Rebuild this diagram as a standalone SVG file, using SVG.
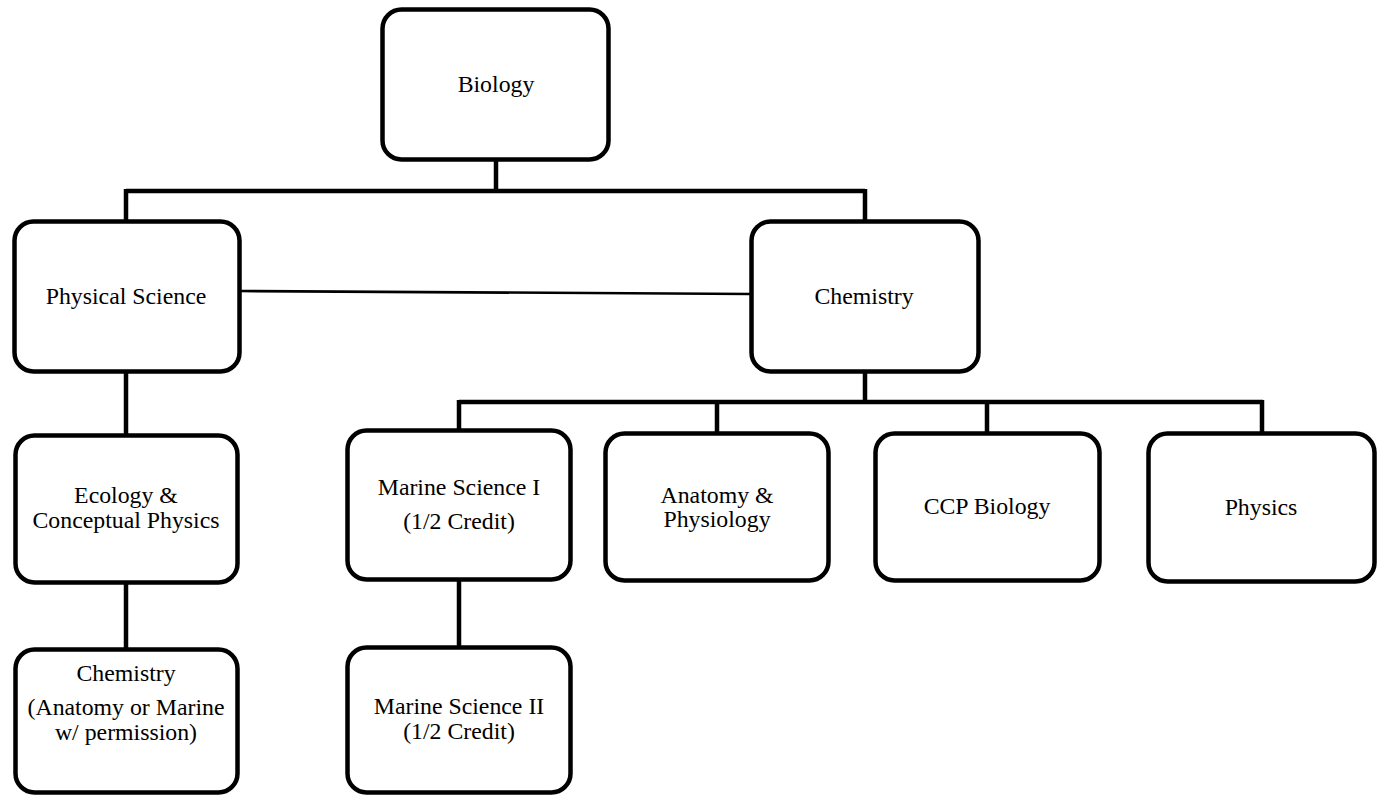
<svg xmlns="http://www.w3.org/2000/svg" width="1385" height="797" viewBox="0 0 1385 797">
<style>
.box{fill:#fff;stroke:#000;stroke-width:4.5}
.lbl{font-family:"Liberation Serif","Times New Roman",serif;font-size:23.8px;fill:#000;text-anchor:middle}
.con{fill:none;stroke:#000;stroke-width:4.5}
.thin{fill:none;stroke:#000;stroke-width:2.6}
</style>
<rect width="1385" height="797" fill="#fff"/>
<g id="connectors">
<path class="con" d="M496,160 V191 M126,191 H865 M126,189 V222 M865,189 V222"/>
<path class="thin" d="M240,291 L751,294"/>
<path class="con" d="M126,372 V436"/>
<path class="con" d="M126,583 V650"/>
<path class="con" d="M865,372 V402 M459,402 H1263 M459,400 V431 M717,400 V434 M987,400 V434 M1262,400 V434"/>
<path class="con" d="M459,580 V648"/>
</g>
<g id="biology">
<rect class="box" x="382.5" y="9.5" width="226" height="150" rx="19"/>
<text class="lbl" x="496" y="92">Biology</text>
</g>
<g id="physical-science">
<rect class="box" x="14.5" y="221.5" width="225" height="150" rx="19"/>
<text class="lbl" x="126" y="304">Physical Science</text>
</g>
<g id="chemistry">
<rect class="box" x="751.5" y="221.5" width="227" height="150" rx="19"/>
<text class="lbl" x="864" y="304">Chemistry</text>
</g>
<g id="ecology">
<rect class="box" x="15.5" y="435.5" width="222" height="147" rx="19"/>
<text class="lbl" x="126" y="503">Ecology &amp;</text>
<text class="lbl" x="126" y="528">Conceptual Physics</text>
</g>
<g id="chemistry-2">
<rect class="box" x="15.5" y="649.5" width="222" height="143" rx="19"/>
<text class="lbl" x="126" y="681">Chemistry</text>
<text class="lbl" x="126" y="715">(Anatomy or Marine</text>
<text class="lbl" x="126" y="740">w/ permission)</text>
</g>
<g id="marine-1">
<rect class="box" x="347.5" y="430.5" width="223" height="149" rx="19"/>
<text class="lbl" x="459" y="495">Marine Science I</text>
<text class="lbl" x="459" y="529">(1/2 Credit)</text>
</g>
<g id="marine-2">
<rect class="box" x="347.5" y="647.5" width="223" height="145" rx="19"/>
<text class="lbl" x="459" y="714">Marine Science II</text>
<text class="lbl" x="459" y="739">(1/2 Credit)</text>
</g>
<g id="anatomy">
<rect class="box" x="605.5" y="433.5" width="223" height="147" rx="19"/>
<text class="lbl" x="717" y="503">Anatomy &amp;</text>
<text class="lbl" x="717" y="527">Physiology</text>
</g>
<g id="ccp-biology">
<rect class="box" x="875.5" y="433.5" width="224" height="147" rx="19"/>
<text class="lbl" x="987" y="514">CCP Biology</text>
</g>
<g id="physics">
<rect class="box" x="1148.5" y="433.5" width="226" height="148" rx="19"/>
<text class="lbl" x="1261" y="515">Physics</text>
</g>
</svg>
